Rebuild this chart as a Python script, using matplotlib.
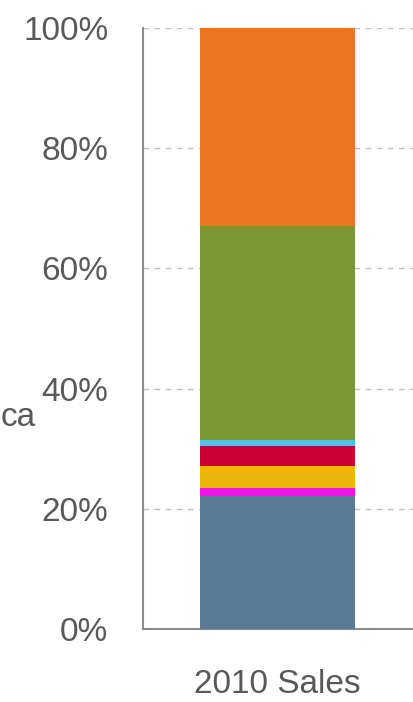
import matplotlib
matplotlib.use("Agg")
import matplotlib.pyplot as plt
import matplotlib.transforms as mtransforms
import numpy as np

categories = ["2010 Sales"]
segment_values = [22.1, 1.3, 3.8, 3.3, 1.0, 35.6, 32.9]
segment_colors = ["#587B96", "#F014E6", "#EAB70A", "#CC0033", "#52C0E6", "#7A9832", "#EB7622"]
y_ticks = [0, 20, 40, 60, 80, 100]
y_tick_labels = ["0%", "20%", "40%", "60%", "80%", "100%"]

plt.rcParams['font.family'] = ['Liberation Sans', 'DejaVu Sans']
W, H = 414, 702
fig = plt.figure(figsize=(W / 100, H / 100), dpi=100)
ax = fig.add_axes([143 / W, (H - 629) / H, (W - 143) / W, (629 - 28) / H])

vals = np.array(segment_values)
vals = vals / vals.sum() * 100
bottom = 0
for v, c in zip(vals, segment_colors):
    ax.bar([0], [v], bottom=bottom, width=0.5, color=c, zorder=3, linewidth=0)
    bottom += v

ax.set_ylim(0, 100)
ax.set_xlim(-0.434, 0.440)
ax.set_yticks(y_ticks)
ax.set_yticklabels(y_tick_labels)
ax.set_xticks([0])
ax.set_xticklabels(categories)
ax.yaxis.grid(True, linestyle=(0, (4, 4)), color="#BFBFBF", linewidth=1, zorder=0)
ax.set_axisbelow(True)
for s in ["top", "right"]:
    ax.spines[s].set_visible(False)
for s in ["left", "bottom"]:
    ax.spines[s].set_color("#8C8C8C")
    ax.spines[s].set_linewidth(1.5)
ax.tick_params(axis="y", length=0, pad=25, labelsize=24, labelcolor="#595959")
ax.tick_params(axis="x", length=0, pad=29, labelsize=24, labelcolor="#595959")

trans = mtransforms.blended_transform_factory(fig.transFigure, ax.transData)
ax.text(1 / W, 33.8, "ca", ha="left", va="baseline", fontsize=24, color="#595959",
        transform=trans, clip_on=False)

fig.savefig("out.png", dpi=100)
